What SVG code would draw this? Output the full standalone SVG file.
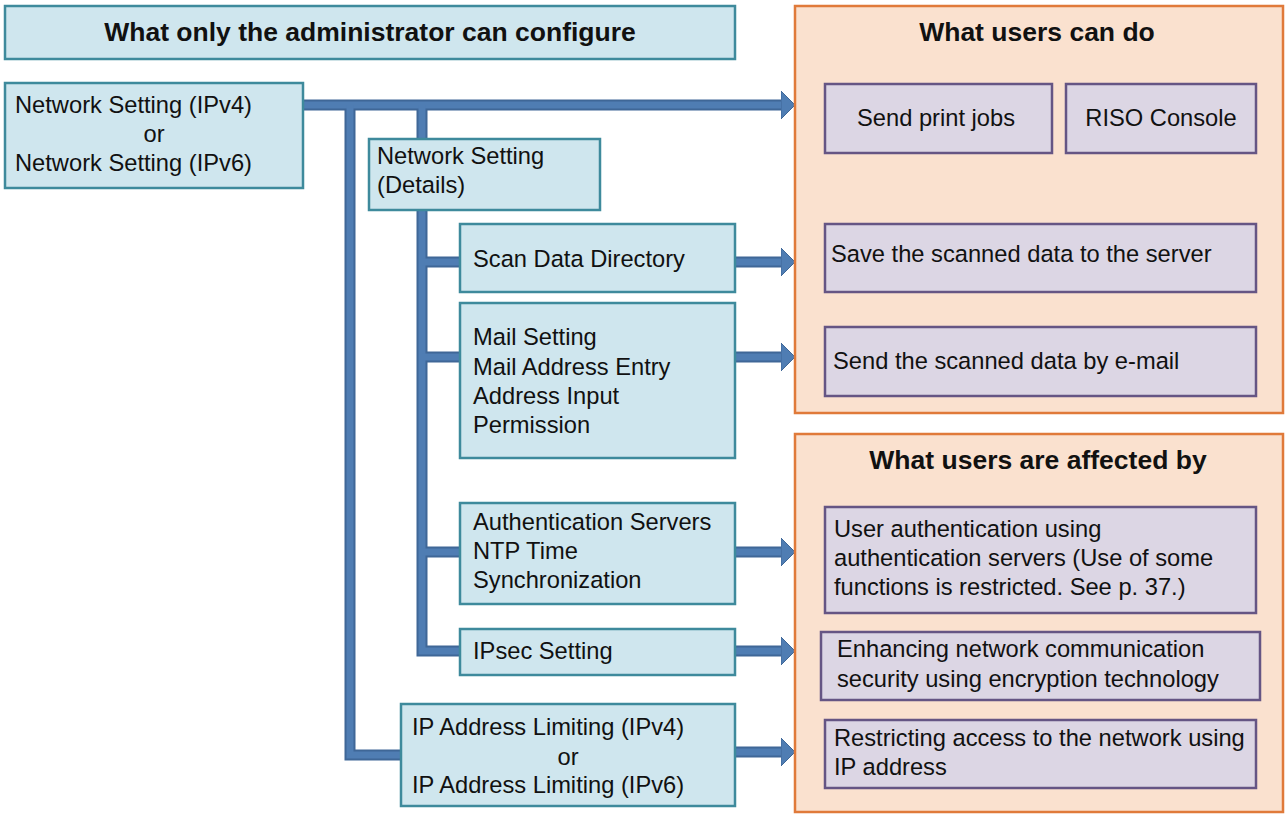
<svg xmlns="http://www.w3.org/2000/svg" width="1285" height="814" viewBox="0 0 1285 814">
<defs>
<style>
.t{font-family:"Liberation Sans",Arial,sans-serif;font-size:23.7px;fill:#111;}
.h{font-family:"Liberation Sans",Arial,sans-serif;font-size:26.5px;font-weight:bold;fill:#111;}
.c{text-anchor:middle;}
.blue{fill:#CFE6EE;stroke:#3E8A9C;stroke-width:2.5;}
.panel{fill:#FAE1CF;stroke:#E07A3A;stroke-width:2.5;}
.item{fill:#DCD6E4;stroke:#655584;stroke-width:2.5;}
.barD{fill:none;stroke:#3F6797;stroke-width:11;}
.barL{fill:none;stroke:#4F7DB3;stroke-width:7;}
</style>
<marker id="ah" markerUnits="userSpaceOnUse" viewBox="0 0 14 28" markerWidth="14" markerHeight="28" refX="1" refY="14" orient="auto">
<path d="M0,0 L14,14 L0,28 Z" fill="#4F7DB3" stroke="#3F6797" stroke-width="1"/>
</marker>
</defs>
<rect width="1285" height="814" fill="#ffffff"/>

<g id="connectors">
<g class="barD">
<path d="M303,105 H781"/>
<path d="M350,105 V755 H401"/>
<path d="M422,105 V651 H460"/>
<path d="M422,262 H460"/>
<path d="M422,357 H460"/>
<path d="M422,552 H460"/>
<path d="M735,262 H781"/>
<path d="M735,357 H781"/>
<path d="M735,552 H781"/>
<path d="M735,651 H781"/>
<path d="M735,752 H781"/>
</g>
<g class="barL">
<path d="M303,105 H782" marker-end="url(#ah)"/>
<path d="M350,105 V755 H401"/>
<path d="M422,105 V651 H460"/>
<path d="M422,262 H460"/>
<path d="M422,357 H460"/>
<path d="M422,552 H460"/>
<path d="M735,262 H782" marker-end="url(#ah)"/>
<path d="M735,357 H782" marker-end="url(#ah)"/>
<path d="M735,552 H782" marker-end="url(#ah)"/>
<path d="M735,651 H782" marker-end="url(#ah)"/>
<path d="M735,752 H782" marker-end="url(#ah)"/>
</g>
</g>

<g id="admin-header">
<rect class="blue" x="5" y="6" width="730" height="53"/>
<text class="h c" x="370" y="41">What only the administrator can configure</text>
</g>

<g id="network-setting">
<rect class="blue" x="5" y="83" width="298" height="105"/>
<text class="t" x="15" y="113">Network Setting (IPv4)</text>
<text class="t c" x="154" y="142">or</text>
<text class="t" x="15" y="171">Network Setting (IPv6)</text>
</g>

<g id="network-details">
<rect class="blue" x="369" y="139" width="231" height="71"/>
<text class="t" x="377" y="164">Network Setting</text>
<text class="t" x="377" y="193">(Details)</text>
</g>

<g id="scan-dir">
<rect class="blue" x="460" y="224" width="275" height="68"/>
<text class="t" x="473" y="267">Scan Data Directory</text>
</g>

<g id="mail">
<rect class="blue" x="460" y="303" width="275" height="155"/>
<text class="t" x="473" y="345">Mail Setting</text>
<text class="t" x="473" y="375">Mail Address Entry</text>
<text class="t" x="473" y="404">Address Input</text>
<text class="t" x="473" y="433">Permission</text>
</g>

<g id="auth">
<rect class="blue" x="460" y="503" width="275" height="101"/>
<text class="t" x="473" y="530">Authentication Servers</text>
<text class="t" x="473" y="559">NTP Time</text>
<text class="t" x="473" y="588">Synchronization</text>
</g>

<g id="ipsec">
<rect class="blue" x="460" y="629" width="275" height="46"/>
<text class="t" x="473" y="659">IPsec Setting</text>
</g>

<g id="ip-limit">
<rect class="blue" x="401" y="704" width="334" height="102"/>
<text class="t" x="412" y="735">IP Address Limiting (IPv4)</text>
<text class="t c" x="568" y="765">or</text>
<text class="t" x="412" y="793">IP Address Limiting (IPv6)</text>
</g>

<g id="panel-can-do">
<rect class="panel" x="795" y="6" width="488" height="407"/>
<text class="h c" x="1037" y="41">What users can do</text>
</g>

<g id="print-jobs">
<rect class="item" x="825" y="84" width="227" height="69"/>
<text class="t c" x="936" y="126">Send print jobs</text>
</g>

<g id="riso-console">
<rect class="item" x="1066" y="84" width="190" height="69"/>
<text class="t c" x="1161" y="126">RISO Console</text>
</g>

<g id="save-scan">
<rect class="item" x="825" y="224" width="431" height="68"/>
<text class="t" x="831" y="262">Save the scanned data to the server</text>
</g>

<g id="mail-scan">
<rect class="item" x="825" y="327" width="431" height="69"/>
<text class="t" x="833" y="369">Send the scanned data by e-mail</text>
</g>

<g id="panel-affected">
<rect class="panel" x="795" y="434" width="488" height="378"/>
<text class="h c" x="1038" y="469">What users are affected by</text>
</g>

<g id="user-auth">
<rect class="item" x="825" y="507" width="431" height="106"/>
<text class="t" x="834" y="537">User authentication using</text>
<text class="t" x="834" y="566">authentication servers (Use of some</text>
<text class="t" x="834" y="595">functions is restricted. See p. 37.)</text>
</g>

<g id="encryption">
<rect class="item" x="821" y="632" width="439" height="68"/>
<text class="t" x="837" y="657">Enhancing network communication</text>
<text class="t" x="837" y="687">security using encryption technology</text>
</g>

<g id="restrict-ip">
<rect class="item" x="825" y="720" width="431" height="68"/>
<text class="t" x="834" y="746">Restricting access to the network using</text>
<text class="t" x="834" y="775">IP address</text>
</g>
</svg>
